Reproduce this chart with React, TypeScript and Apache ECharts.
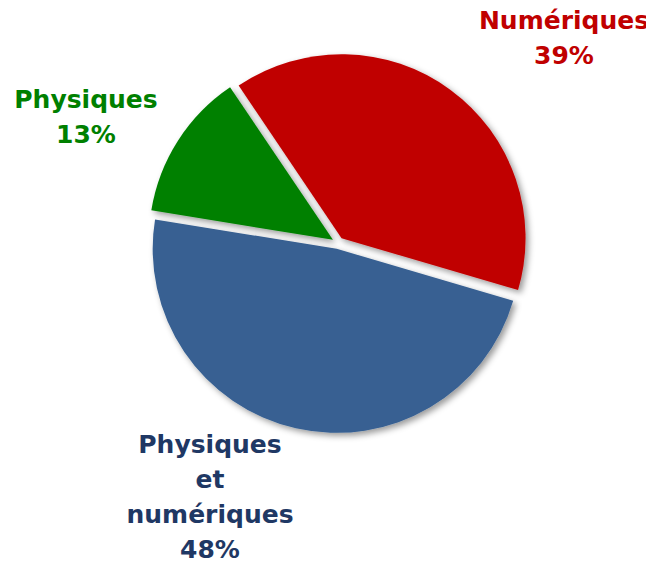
import React, { useEffect, useRef } from "react";
import * as echarts from "echarts";

const categories = ["Numériques", "Physiques et numériques", "Physiques"];
const values = [39, 48, 13];
const sliceColors = ["#C00000", "#376092", "#008000"];
const labelColors = ["#C00000", "#1F3864", "#008000"];

export default function App() {
  const ref = useRef<HTMLDivElement>(null);
  useEffect(() => {
    if (!ref.current) return;
    const chart = echarts.init(ref.current, null, { renderer: "svg" });
    const total = values.reduce((a, b) => a + b, 0);
    const labelPos = [
      { x: 564, y: 3 },
      { x: 210, y: 427 },
      { x: 86, y: 82 },
    ];
    chart.setOption({
      animation: false,
      backgroundColor: "#ffffff",
      graphic: categories.map((c, i) => ({
        type: "text",
        x: labelPos[i].x,
        y: labelPos[i].y,
        silent: true,
        style: {
          text: c.split(" ").join("\n") + "\n" + Math.round((values[i] / total) * 100) + "%",
          fill: labelColors[i],
          font: "bold 25px 'DejaVu Sans'",
          lineHeight: 35,
          align: "center",
          verticalAlign: "top",
        },
      })),
      series: [
        {
          type: "pie",
          center: [338, 243],
          radius: [0, 184],
          startAngle: 124,
          clockwise: true,
          selectedMode: "multiple",
          selectedOffset: 6,
          silent: true,
          labelLine: { show: false },
          label: { show: false },
          itemStyle: {
            shadowBlur: 6,
            shadowOffsetX: 3,
            shadowOffsetY: 3,
            shadowColor: "rgba(0,0,0,0.4)",
          },
          data: categories.map((c, i) => ({
            name: c,
            value: values[i],
            selected: true,
            itemStyle: { color: sliceColors[i] },
            select: { itemStyle: { color: sliceColors[i] } },
          })),
        },
      ],
    });
    return () => chart.dispose();
  }, []);
  return <div ref={ref} style={{ width: 654, height: 567, margin: -8 }} />;
}
